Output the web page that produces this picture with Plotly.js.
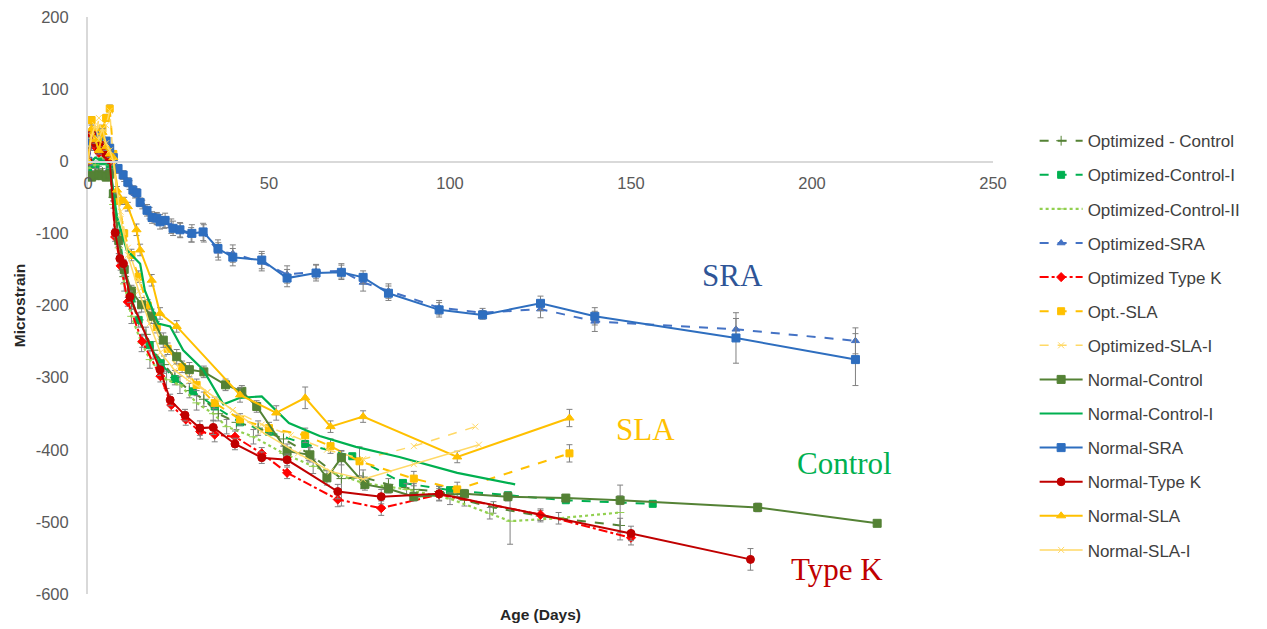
<!DOCTYPE html>
<html>
<head>
<meta charset="utf-8">
<script src="https://cdn.plot.ly/plotly-3.0.1.min.js"></script>
<style>html,body{margin:0;padding:0;background:#fff;}#chart{width:1267px;height:629px;}</style>
</head>
<body>
<div id="chart"></div>
<script>
// ---- Data (Age in days, microstrain) ----
const optControlDays = [0,1,2,3,4,5,6,7,8.5,10,12,14,16,18,21,24,28,32,36,41,47,54,61,70,76,83,90,97,104,112,125,147];
const optControlVals = [-15,-18,-15,-12,-15,-18,-14,-50,-110,-160,-195,-220,-240,-262,-282,-300,-318,-330,-350,-362,-370,-385,-405,-440,-438,-448,-455,-458,-470,-480,-492,-505];
const optControlErr  = [5,5,5,5,5,5,5,5,8,8,10,10,10,12,12,10,10,10,10,10,10,10,10,38,10,8,8,8,8,8,8,10];

const optControlIDays = [0,2,4,6,7,8.5,10,12,14,17,20,24,29,35,42,50,60,73,87,100,116,132,156];
const optControlIVals = [-10,-5,0,-8,-45,-100,-150,-190,-220,-255,-280,-302,-319,-340,-362,-375,-392,-409,-446,-456,-463,-470,-475];

const optControlIIDays = [0,2,4,6,7,8.5,10,12,14.8,17.1,21.7,25.4,30,34.6,38.3,45.7,54,62.2,76,88,100,111,116.6,130,147];
const optControlIIVals = [-10,-5,5,-5,-60,-120,-170,-215,-252,-275,-303,-310,-335,-350,-368,-382,-405,-423,-446,-455,-468,-488,-499,-495,-487];
const optControlIIErr  = [5,5,5,5,5,8,10,10,12,12,12,12,10,10,10,10,10,10,8,8,8,8,32,8,38];

const optSRADays = [0,1,2,3,4,5,6,7,8.5,10,11.5,13,15,17,19,21,23,25.5,28.5,32,36,40,48,55,63,70,76,83,97,109,125,140,179,212];
const optSRAVals = [0,20,32,38,25,15,12,0,-12,-22,-33,-45,-60,-72,-80,-85,-90,-96,-102,-100,-125,-128,-140,-157,-153,-152,-168,-180,-203,-210,-205,-222,-233,-249];
const optSRAErr  = [4,5,5,5,5,5,5,5,5,6,6,6,6,8,8,8,10,10,10,12,12,12,12,12,10,10,12,10,10,6,12,14,15,18];

const optTypeKDays = [0,1,2,3,4,5,6,7.5,9,11,15,20,23,27,31,35,40.6,48,55,69,81,97,125,150];
const optTypeKVals = [0,30,20,12,18,8,0,-105,-145,-195,-250,-298,-338,-358,-375,-379,-382,-405,-432,-469,-481,-462,-490,-522];
const optTypeKErr  = [3,5,5,5,5,5,5,6,6,6,8,8,8,8,10,10,8,8,8,10,10,8,8,10];

const optSLADays = [0,1,2,3,4,5,6,7,8.5,10,12,14,16.5,19,22,26,30,35,42,50,60,67,75,90,102,133];
const optSLAVals = [0,57,40,20,45,60,73,10,-55,-100,-130,-160,-200,-230,-260,-285,-310,-335,-358,-370,-380,-395,-416,-440,-455,-405];
const optSLAErr  = [5,5,5,5,5,5,5,5,5,5,8,8,8,8,8,8,8,8,8,8,10,10,20,10,10,12];

const optSLAIDays = [0,1,2,3,4,5,6,7,9,11,14,17,20,24,28,33,40,48,56,66,76,90,107];
const optSLAIVals = [0,40,25,60,30,50,70,0,-70,-120,-165,-210,-250,-280,-300,-320,-345,-365,-380,-400,-413,-395,-368];

const normControlDays = [0,1,2,3,4,5,6,7,8.5,10,12,14.8,17.6,20.8,24.5,28,32,38,42.5,46.6,55,61.3,66,70,76.5,83,90,104,116,132,147,185,218];
const normControlVals = [-20,-22,-20,-18,-20,-22,-18,-45,-110,-150,-180,-199,-215,-248,-271,-289,-292,-310,-319,-340,-402,-407,-439,-411,-448,-454,-465,-461,-465,-467,-470,-480,-502];
const normControlErr  = [5,5,5,5,5,5,5,5,8,8,8,10,10,10,10,10,8,8,8,8,10,10,10,10,8,6,6,6,6,5,6,6,4];

const normControlIDays = [0,2,4,6,8,10.7,14.4,15.7,19.4,22.7,26.3,31.8,37.4,42,48,55.5,64,74,86,102,118];
const normControlIVals = [-5,5,0,-5,-77,-123,-142,-179,-225,-229,-262,-289,-337,-328,-326,-363,-381,-396,-410,-432,-448];

const normSRADays = [0,1,2,3,4,5,6,7,8.3,9.7,11,12.4,13.5,14.4,16.3,17.7,19,19.9,21.3,23.5,25.4,28.7,31.8,35.9,40,48,55,63,70,76,83,97,109,125,140,179,212];
const normSRAVals = [0,28,35,30,22,28,18,5,-10,-19,-29,-40,-44,-57,-68,-78,-79,-84,-82,-93,-95,-100,-98,-121,-133,-137,-162,-155,-154,-161,-183,-206,-213,-197,-215,-245,-275];
const normSRAErr  = [4,5,5,5,5,5,5,5,5,6,6,6,6,6,8,8,8,10,10,10,10,12,12,12,12,12,12,11,10,9,10,10,6,10,12,35,36];

const normTypeKDays = [0,1,2,3,4,5,6,7.5,8.8,9.8,11.6,19.9,22.7,26.8,30.9,34.6,40.6,48,55,69,81,97,150,183];
const normTypeKVals = [0,38,25,15,22,10,2,-99,-135,-142,-188,-289,-331,-352,-370,-369,-392,-411,-414,-458,-465,-461,-516,-552];
const normTypeKErr  = [3,5,5,5,5,5,5,6,6,6,8,8,8,8,10,10,8,8,8,10,10,10,10,15];

const normSLADays = [0,1,2,3,4,5,6,7,8,10,11,13.4,14.4,17.6,19.9,24.5,42,52,60,67,76,102,133];
const normSLAVals = [0,45,30,15,40,20,10,5,-40,-55,-63,-95,-123,-165,-211,-229,-324,-349,-328,-368,-354,-410,-356];
const normSLAErr  = [5,5,5,5,5,5,5,5,5,5,6,8,8,8,8,8,10,10,15,8,8,8,12];

const normSLAIDays = [0,1,2,3,4,5,6,7,9,11,14,17,20,24,28,33,40,48,58,67,76,90,108];
const normSLAIVals = [0,35,50,30,45,25,15,0,-80,-130,-180,-225,-265,-290,-305,-320,-345,-375,-405,-430,-441,-420,-393];

const seriesNames = ['Optimized - Control','Optimized-Control-I','Optimized-Control-II','Optimized-SRA','Optimized Type K','Opt.-SLA','Optimized-SLA-I','Normal-Control','Normal-Control-I','Normal-SRA','Normal-Type K','Normal-SLA','Normal-SLA-I'];
const groupLabels = ['SRA','SLA','Control','Type K'];
const groupLabelX = [178,154,209,207];
const groupLabelY = [-159,-372,-419,-566];
const yTickVals = [200,100,0,-100,-200,-300,-400,-500,-600];
const yTickText = ['200','100','0','-100','-200','-300','-400','-500','-600'];
const xTickVals = [0,50,100,150,200,250];
const xTickText = ['0','50','100','150','200','250'];

// ---- Styles ----
const ERR = {color:'#808080', thickness:1, width:3};
function errOf(arr){ return arr ? Object.assign({type:'data', array:arr, visible:true}, ERR) : {visible:false}; }
function tr(i, x, y, err, color, dash, width, symbol, msize){
  const t = {
    type:'scatter', x:x, y:y, name:seriesNames[i], legendgroup:'g'+i,
    mode: symbol ? 'lines+markers' : 'lines',
    line:{color:color, dash:dash, width:width},
    error_y: errOf(err)
  };
  if (symbol) t.marker = {symbol:symbol, size:msize, color:color, line:{color:color, width:1}};
  return t;
}

const traces = [
  tr(0, optControlDays, optControlVals, optControlErr, '#548235', 'dash', 2, 'cross-thin', 7),
  tr(1, optControlIDays, optControlIVals, null, '#00B050', 'dash', 2, 'square', 7),
  tr(2, optControlIIDays, optControlIIVals, optControlIIErr, '#92D050', 'dot', 2.2, 'line-ew', 6),
  tr(3, optSRADays, optSRAVals, optSRAErr, '#4472C4', 'dash', 2, 'triangle-up', 7),
  tr(4, optTypeKDays, optTypeKVals, optTypeKErr, '#FF0000', 'dashdot', 2, 'diamond', 7),
  tr(5, optSLADays, optSLAVals, optSLAErr, '#FFC000', 'dash', 2, 'square', 7),
  tr(6, optSLAIDays, optSLAIVals, null, '#FFD966', 'dash', 1.5, 'x-thin', 6),
  tr(7, normControlDays, normControlVals, normControlErr, '#548235', 'solid', 2, 'square', 8),
  tr(8, normControlIDays, normControlIVals, null, '#00B050', 'solid', 2.2, null, 0),
  tr(9, normSRADays, normSRAVals, normSRAErr, '#2E6EBF', 'solid', 2, 'square', 8),
  tr(10, normTypeKDays, normTypeKVals, normTypeKErr, '#C00000', 'solid', 2, 'circle', 8),
  tr(11, normSLADays, normSLAVals, normSLAErr, '#FFC000', 'solid', 2, 'triangle-up', 8),
  tr(12, normSLAIDays, normSLAIVals, null, '#FFD966', 'solid', 1.5, 'x-thin', 6)
];

const labelColors = ['#2F5597','#FFC000','#00B050','#C00000'];
const annotations = groupLabels.map((t,i)=>({
  x:groupLabelX[i], y:groupLabelY[i], xref:'x', yref:'y', text:t, showarrow:false,
  font:{family:'Liberation Serif, Times New Roman, serif', size:31, color:labelColors[i]}
}));
annotations.push({
  x:0.5, y:-0.035, xref:'paper', yref:'paper', text:'<b>Age (Days)</b>', showarrow:false,
  yanchor:'middle', font:{family:'Liberation Sans, Arial, sans-serif', size:15.5, color:'#262626'}
});

const layout = {
  width:1267, height:629,
  margin:{l:88, r:274, t:17, b:35},
  paper_bgcolor:'#fff', plot_bgcolor:'#fff',
  font:{family:'Liberation Sans, Arial, sans-serif', color:'#595959'},
  showlegend:true,
  legend:{x:1.046, xanchor:'left', y:0.816, yanchor:'top', tracegroupgap:9, itemwidth:43,
          font:{size:17, color:'#404040'}, bgcolor:'rgba(0,0,0,0)'},
  xaxis:{range:[0,250], tickvals:xTickVals, ticktext:xTickText, showgrid:false, zeroline:false,
         anchor:'free', position:0.75, showline:true, linecolor:'#D9D9D9', linewidth:1.5,
         ticks:'', tickfont:{size:16.5, color:'#595959'}, ticklabelstandoff:6},
  yaxis:{range:[-600,200], tickvals:yTickVals, ticktext:yTickText, showgrid:false, zeroline:false,
         showline:true, linecolor:'#D9D9D9', linewidth:2, ticks:'',
         tickfont:{size:16.5, color:'#595959'}, ticklabelstandoff:14,
         title:{text:'<b>Microstrain</b>', font:{size:15.5, color:'#262626'}, standoff:6}},
  annotations:annotations
};

Plotly.newPlot('chart', traces, layout, {displayModeBar:false, staticPlot:true});
</script>
</body>
</html>
